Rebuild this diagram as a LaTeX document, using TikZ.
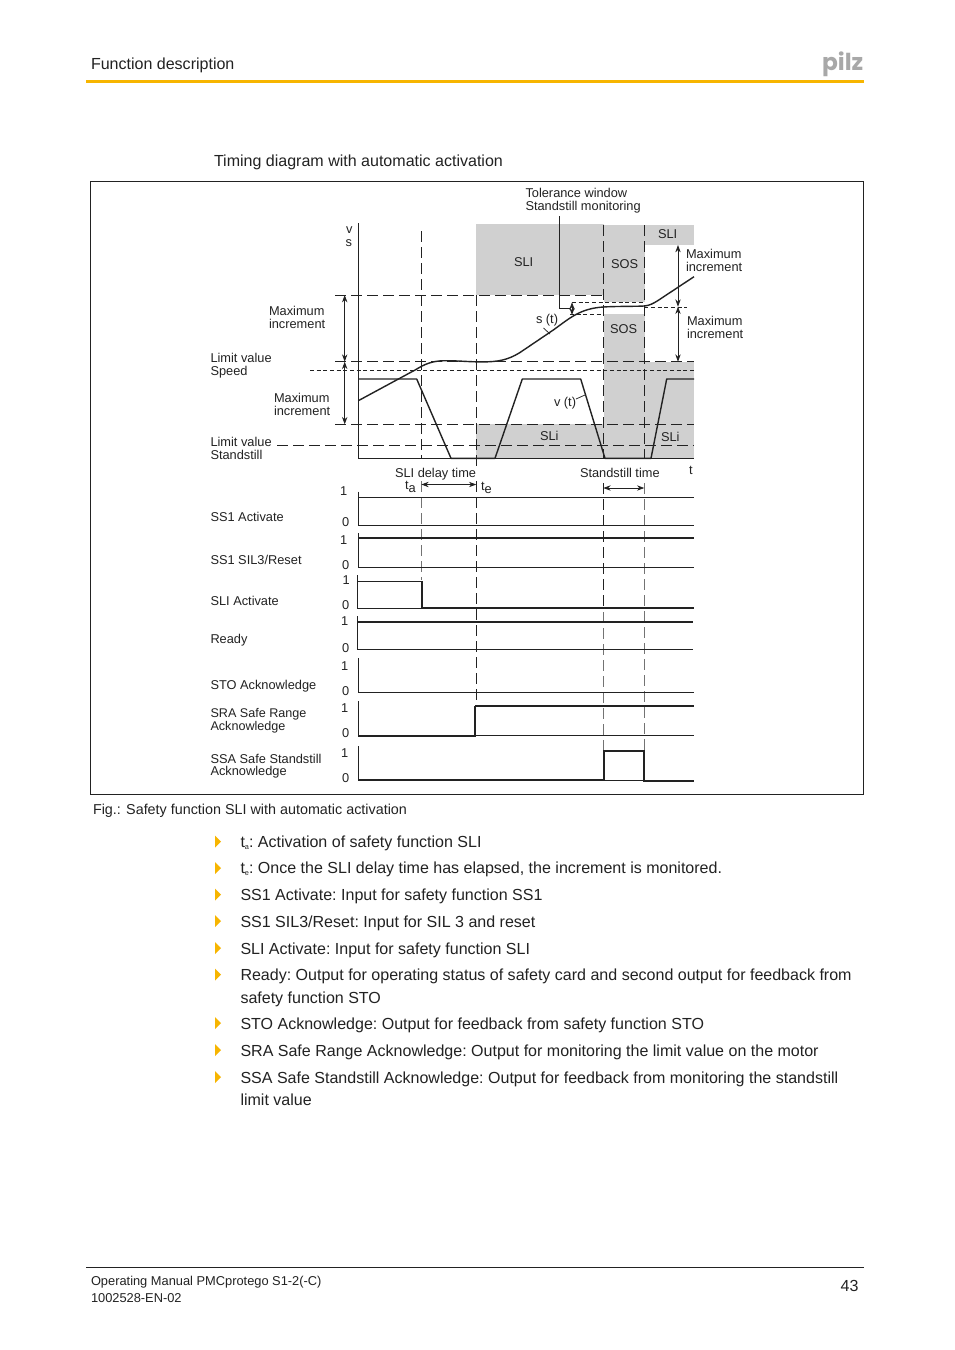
\documentclass[tikz,border=0pt]{standalone}
\usepackage{fontspec}
\setmainfont{Liberation Sans}
\newfontfamily\logofont{Poppins}
\usetikzlibrary{arrows.meta}
\definecolor{pilzgold}{HTML}{F7B500}
\definecolor{zone}{HTML}{D0D0D0}
\definecolor{logo}{HTML}{A8A8A8}
\definecolor{ink}{HTML}{222222}
\newcommand{\tinysub}[1]{\raisebox{-1.6pt}{\fontsize{5.5}{6}\selectfont #1}}
\tikzset{
  lab/.style={anchor=base west,inner sep=0pt,outer sep=0pt,text=ink,font=\fontsize{9.6}{9.75}\selectfont},
  lab2/.style={anchor=west,align=left,inner sep=0pt,outer sep=0pt,text=ink,font=\fontsize{9.6}{9.75}\selectfont},
  body/.style={anchor=base west,inner sep=0pt,outer sep=0pt,text=ink,font=\fontsize{12.02}{16.9}\selectfont\frenchspacing},
  body2/.style={anchor=north west,align=left,inner sep=0pt,outer sep=0pt,text=ink,font=\fontsize{12.02}{16.9}\selectfont\frenchspacing},
  capt/.style={anchor=base west,inner sep=0pt,outer sep=0pt,text=ink,font=\fontsize{10.76}{12}\selectfont},
  small/.style={anchor=base west,inner sep=0pt,outer sep=0pt,text=ink,font=\fontsize{9.63}{11.5}\selectfont},
  longdash/.style={draw=ink,line width=0.6pt,dash pattern=on 8pt off 4pt},
  greydash/.style={draw=black!55,line width=0.6pt,dash pattern=on 8pt off 4pt},
  shortdash/.style={draw=ink,line width=0.5pt,dash pattern=on 3pt off 2pt},
  thinl/.style={draw=ink,line width=0.55pt},
  sig/.style={draw=ink,line width=1.2pt},
  midsig/.style={draw=ink,line width=0.85pt},
  curve/.style={draw=ink,line width=1.05pt,line join=round},
  dimarrow/.style={draw=ink,line width=0.6pt,{Stealth[length=5.5pt,width=4pt]}-{Stealth[length=5.5pt,width=4pt]}},
  bullet/.style={fill=pilzgold,draw=none},
}
\begin{document}
\begin{tikzpicture}[x=0.75pt,y=-0.75pt]
\useasboundingbox[fill=white] (0,0) rectangle (954,1350);
% header
\node[body] (head) at (91,69) {Function description};
\fill[pilzgold] (86,80) rectangle (863.5,83);
\node[anchor=base east,inner sep=0pt,text=logo,font=\logofont\fontsize{17.5}{18}\bfseries\selectfont] (logo) at (863.5,70) {pilz};
\node[body] (title) at (214,166) {Timing diagram with automatic activation};
\draw[draw=ink,line width=0.55pt] (90.5,181.5) rectangle (863.5,794.5);
% grey zones
\fill[zone] (476,224) rectangle (603.5,295);
\fill[zone] (603.5,225) rectangle (644.5,301.5);
\fill[zone] (644.5,225) rectangle (694,245);
\fill[zone] (603.5,314) rectangle (644.5,362);
\fill[zone] (603.5,361.7) rectangle (694,458);
\fill[zone] (476,424.3) rectangle (603.5,458);
% zone labels
\node[lab] (z1) at (514,266) {SLI};
\node[lab] (z2) at (611,268) {SOS};
\node[lab] (z3) at (658,238) {SLI};
\node[lab] (z4) at (610,333.5) {SOS};
\node[lab] (z5) at (540,440) {SLi};
\node[lab] (z6) at (661,441) {SLi};
% axes
\draw[thinl] (358.3,223) -- (358.3,458) -- (694,458);
% horizontal guides
\draw[longdash] (335,295) -- (603.3,295);
\draw[longdash] (335,361.7) -- (694,361.7);
\draw[shortdash] (310,370.3) -- (694,370.3);
\draw[longdash] (335,424.3) -- (694,424.3);
\draw[longdash] (277,445.3) -- (694,445.3);
\draw[shortdash] (572,302.3) -- (644.3,302.3);
\draw[shortdash] (570,314.7) -- (603.3,314.7);
\draw[shortdash] (644.3,307) -- (687,307);
% vertical guides
\draw[longdash] (421.3,231) -- (421.3,458);
\draw[longdash] (476.3,295) -- (476.3,466);
\draw[longdash] (603.3,225) -- (603.3,458);
\draw[longdash] (644.3,225) -- (644.3,458);
\draw[greydash] (421.3,481) -- (421.3,580);
\draw[longdash] (476.3,481) -- (476.3,706);
\draw[longdash] (603.3,483) -- (603.3,608);
\draw[greydash] (603.3,612) -- (603.3,751);
\draw[greydash] (644.3,483) -- (644.3,751);
% curves
\draw[curve] (358.3,400.7) -- (416,369.5) .. controls (424,364.5) and (432,360.7) .. (445,360.7)
  .. controls (460,360.7) and (468,361.9) .. (482,361.9)
  .. controls (498,361.9) and (508,360) .. (520,352.5)
  -- (553.3,330) .. controls (570,318) and (580,308.5) .. (603.3,307)
  .. controls (615,306.2) and (635,306.5) .. (644.3,306)
  .. controls (650,305.5) and (654,303) .. (658,300.5) -- (694,276.7);
\draw[curve] (358.3,379) -- (416.7,379) -- (451,458.3) -- (495,458.3) -- (522.3,379) -- (580.7,379) -- (605,458.3) -- (651,458.3) -- (666.7,379) -- (694,379);
% arrows
\coordinate (aL1) at (344.7,295);\coordinate (aL2) at (344.7,361.7);\coordinate (aL3) at (344.7,424.3);
\coordinate (aR1) at (678,245);\coordinate (aR2) at (678,306.7);\coordinate (aR3) at (678,361.7);
\coordinate (aS1) at (572,302.3);\coordinate (aS2) at (572,315);
\draw[dimarrow] (aL1) -- (aL2);
\draw[dimarrow] (aL2) -- (aL3);
\draw[dimarrow] (aR1) -- (aR2);
\draw[dimarrow] (aR2) -- (aR3);
\draw[dimarrow] (aS1) -- (aS2);
\coordinate (lead) at (559.3,216);
\coordinate (leadb) at (570,308.3);
\draw[thinl] (lead) |- (leadb);
% leaders to curves
\coordinate (sa) at (543.5,328);\coordinate (sb) at (550,334);
\coordinate (va) at (576,399);\coordinate (vb) at (585,395);
\draw[thinl] (sa) -- (sb);
\draw[thinl] (va) -- (vb);
% delay arrows
\coordinate (dA) at (421.3,484.5);\coordinate (dB) at (476.3,484.5);
\coordinate (dC) at (603.3,488);\coordinate (dD) at (644.3,488);
\draw[dimarrow] (dA) -- (dB);
\draw[dimarrow] (dC) -- (dD);
% labels top
\node[lab2] (tw) at (525.5,200.5) {Tolerance window\\Standstill monitoring};
\node[lab] (vv) at (346,233) {v};
\node[lab] (ss) at (345.5,246) {s};
\node[lab2] (m1) at (269,317.5) {Maximum\\increment};
\node[lab2] (m2) at (686,260.5) {Maximum\\increment};
\node[lab2] (m3) at (687,327.5) {Maximum\\increment};
\node[lab2] (m4) at (274,404.5) {Maximum\\increment};
\node[lab2] (lv1) at (210.5,365.5) {Limit value\\Speed};
\node[lab2] (lv2) at (210.5,448.5) {Limit value\\Standstill};
\node[lab] (st) at (536,323) {s (t)};
\node[lab] (vt) at (554,406) {v (t)};
\node[lab] (delay) at (395,477) {SLI delay time};
\node[lab] (stand) at (580,477) {Standstill time};
\node[lab] (tt) at (689,474) {t};
\node[lab] (ta) at (405,489) {t\raisebox{-2.6pt}{a}};
\node[lab] (te) at (481,490) {t\raisebox{-2.6pt}{e}};
% row labels
\node[lab] (r1) at (210.5,521) {SS1 Activate};
\node[lab] (r2) at (210.5,564) {SS1 SIL3/Reset};
\node[lab] (r3) at (210.5,605) {SLI Activate};
\node[lab] (r4) at (210.5,643) {Ready};
\node[lab] (r5) at (210.5,689) {STO Acknowledge};
\node[lab2,font=\fontsize{9.45}{9.75}\selectfont] (r6) at (210.5,720.5) {SRA Safe Range\\Acknowledge};
\node[lab2,font=\fontsize{9.6}{9}\selectfont] (r7) at (210.5,766) {SSA Safe Standstill\\Acknowledge};
% 0/1
\node[lab] (h1) at (340,495) {1};
\node[lab] (l1) at (342,526) {0};
\node[lab] (h2) at (340,544) {1};
\node[lab] (l2) at (342,569) {0};
\node[lab] (h3) at (342.5,584) {1};
\node[lab] (l3) at (342,609) {0};
\node[lab] (h4) at (341,625) {1};
\node[lab] (l4) at (342,652) {0};
\node[lab] (h5) at (341,670) {1};
\node[lab] (l5) at (342,695) {0};
\node[lab] (h6) at (341,712) {1};
\node[lab] (l6) at (342,737) {0};
\node[lab] (h7) at (341,757) {1};
\node[lab] (l7) at (342,782) {0};
% timing rows
\draw[thinl] (358.3,491.7) -- (358.3,525.3) -- (694,525.3);
\draw[thinl] (358.3,497.3) -- (694,497.3);
\draw[thinl] (358.3,533.3) -- (358.3,567.3) -- (694,567.3);
\draw[sig] (358.3,538) -- (694,538);
\draw[thinl] (357.3,575) -- (357.3,608);
\draw[thinl] (357.3,581) -- (421.7,581);
\draw[sig] (421.7,581) -- (421.7,608);
\draw[midsig] (421.7,608) -- (694,608);
\draw[thinl] (357.3,608) -- (421.7,608);
\draw[thinl] (357.3,616) -- (357.3,649.3) -- (692.7,649.3);
\draw[sig] (357.3,622) -- (692.7,622);
\draw[thinl] (358.3,658.3) -- (358.3,692.3) -- (694,692.3);
\draw[thinl] (358.3,701) -- (358.3,735.7) -- (694,735.7);
\draw[sig] (358.3,735.7) -- (475,735.7) -- (475,706);
\draw[midsig] (475,706) -- (694,706);
\draw[thinl] (358.3,746) -- (358.3,780);
\draw[thinl] (604,780) -- (644,780);
\draw[sig] (358.3,780) -- (604,780) -- (604,751) -- (644,751) -- (644,781) -- (694,781);
% caption
\node[capt] (cap) at (93,814) {Fig.: Safety function SLI with automatic activation};
% bullets
\foreach \y in {841.5,868,894.5,921,948,974.5,1023,1050,1077}{
  \fill[bullet] (215,\y-6) -- (221,\y) -- (215,\y+6) -- cycle;
}
\node[body] (b1) at (240.5,847) {t\tinysub{a}: Activation of safety function SLI};
\node[body] (b2) at (240.5,873) {t\tinysub{e}: Once the SLI delay time has elapsed, the increment is monitored.};
\node[body] (b3) at (240.5,900) {SS1 Activate: Input for safety function SS1};
\node[body] (b4) at (240.5,927) {SS1 SIL3/Reset: Input for SIL 3 and reset};
\node[body] (b5) at (240.5,954) {SLI Activate: Input for safety function SLI};
\node[body2] (b6) at (240.5,969) {Ready: Output for operating status of safety card and second output for feedback from\\safety function STO};
\node[body] (b7) at (240.5,1029) {STO Acknowledge: Output for feedback from safety function STO};
\node[body] (b8) at (240.5,1056) {SRA Safe Range Acknowledge: Output for monitoring the limit value on the motor};
\node[body2] (b9) at (240.5,1071.5) {SSA Safe Standstill Acknowledge: Output for feedback from monitoring the standstill\\limit value};
% footer
\draw[draw=ink,line width=0.4pt] (86,1267.5) -- (863.5,1267.5);
\node[small] (f1) at (91,1285) {Operating Manual PMCprotego S1-2(-C)};
\node[small] (f2) at (91,1302) {1002528-EN-02};
\node[body,anchor=base east] (pg) at (858.5,1291) {43};
\end{tikzpicture}
\end{document}
